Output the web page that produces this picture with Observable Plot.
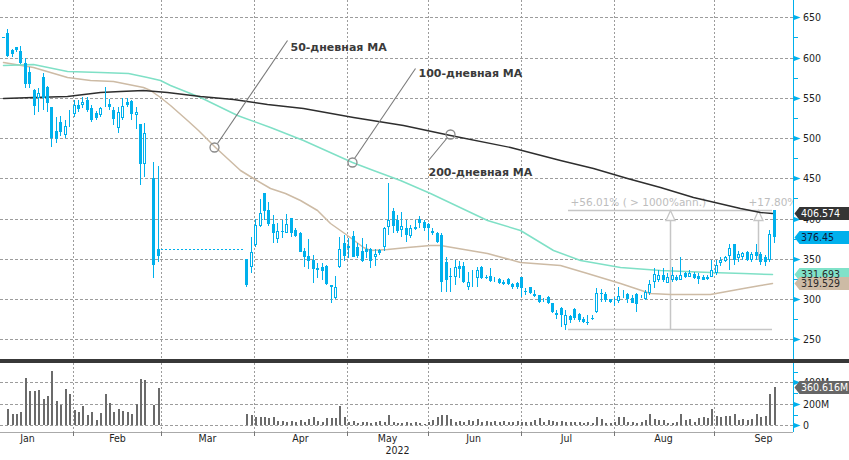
<!DOCTYPE html>
<html>
<head>
<meta charset="utf-8">
<script src="https://cdn.jsdelivr.net/npm/d3@7"></script>
<script src="https://cdn.jsdelivr.net/npm/@observablehq/plot@0.6"></script>
<style>
  html, body { margin: 0; padding: 0; background: #fff; }
  #wrap { width: 849px; height: 460px; overflow: hidden; background: #fff; }
  #wrap svg { display: block; }
  .sep { height: 4px; background: #383838; }
</style>
</head>
<body>
<div id="wrap"></div>
<script>
// ---------------- DATA ----------------
// trading-slot index (x); slots 36..54 = exchange closure (no data)
const slots = d3.range(0, 36).concat(d3.range(55, 175));

const open = [
  625, 630.5, 610, 612.7, 608.5, 592.9, 582.4, 559.7, 549.4, 575.5, 563.8, 538.2, 508.8, 519.6, 503.8, 528, 529.5, 541, 541, 547.3,
  536.9, 530.7, 528.6, 541.5, 541.9, 534.8, 512.1, 524.5, 545.2, 546, 528.6, 517.5, 467.4, 501.6, 450.7, 362.2,
  349.4, 339.4, 367, 391, 431.3, 410.6, 392.9, 374.2, 384.9, 382.4, 400.3, 385.8, 382.4, 359.8, 353.5, 348.5, 338, 340.2, 341, 317.5,
  300.9, 339.4, 369.3, 365.9, 378.7, 364.3, 359.8, 362.2, 361.8, 351.9, 360.9, 365, 389.9, 409.8, 398.1, 385.8, 387.9, 378.7, 389.9, 399.4,
  396, 393, 385, 381.6, 379.6, 346.4, 328.5, 327.8, 341, 341, 315.4, 324.1, 325.7, 340.2, 327, 328.6, 324.1, 324.5, 321.6, 324.5,
  318.7, 320.3, 327, 310.4, 315.4, 306.3, 305, 300.3, 302.1, 294.7, 283.1, 288.5, 267.8, 279.4, 287.2, 281, 275.2, 271.4, 276.6, 284.3,
  307.9, 306.3, 299.6, 298, 297.6, 305.4, 306.3, 300.9, 306.3, 305.4, 300.1, 307.1, 321.6, 323.7, 329.9, 320.4, 323.7, 327.8, 323.7, 332,
  327.8, 330.7, 329.1, 327.8, 324.5, 327.8, 332, 344.4, 347.7, 353.9, 368, 350.6, 351.8, 358.9, 348.5, 358.9, 356, 351.8, 348.5, 410.6
];
const high = [
  625.6, 635.1, 611, 613.5, 614.3, 599, 587.9, 561, 561.8, 580.4, 565, 539, 526.5, 527.4, 522.4, 534.8, 547.3, 547.3, 551.4, 551.4,
  541, 534, 539, 563.8, 548.5, 539, 539, 549.4, 549.4, 547, 539, 518, 518.3, 501.6, 469.9, 465.7,
  350, 376.7, 399.1, 423.9, 432, 420.9, 404.4, 394, 398, 405.3, 401, 388, 383, 363.1, 374.2, 354.7, 345.2, 345.2, 342, 318,
  328.6, 377.5, 379.6, 375.5, 384.5, 370, 375.5, 368.4, 363, 362.6, 362, 389.9, 443.8, 412.7, 404.4, 407.8, 398, 391.9, 398, 403.2,
  398, 395, 387.9, 383.7, 381.6, 352, 338.2, 348.5, 347.7, 346.4, 334, 336.1, 340.2, 341, 329.9, 338.2, 327, 325.7, 323.7, 325.7,
  319.5, 321, 327.8, 313.3, 315.4, 311.2, 305, 301.7, 303.8, 295.5, 286.4, 289.7, 286.4, 280.2, 288.5, 282.3, 278.1, 280.2, 280.2, 313.3,
  312.1, 309.2, 300, 303, 315.4, 311.2, 307.1, 305, 307.1, 305.5, 311.2, 323.7, 338.2, 336.1, 338.2, 332, 340.2, 329.9, 351.8, 334,
  336.1, 334, 332, 329.9, 329.9, 348.5, 348.5, 351.8, 353.5, 368, 368.4, 360.1, 358.9, 359.7, 358.9, 368, 358.9, 354.7, 385.8, 410.6
];
const low = [
  624.2, 600.7, 601, 607, 592, 562.5, 562.5, 528.6, 532, 534.8, 532.7, 489.3, 493.5, 502.5, 499.7, 514.2, 526.5, 532.7, 536.9, 532.7,
  520.3, 522.4, 526.5, 538.2, 534.8, 516.2, 506.6, 522.4, 538.2, 522.4, 510.9, 441.7, 452, 500.8, 325.8, 346.4,
  315.3, 332, 365, 389.9, 398, 391, 369.3, 369.3, 375.5, 381.7, 377.5, 376.7, 358, 340.2, 336.9, 319.6, 325.8, 323.7, 318, 294.7,
  300, 338.2, 347.7, 350.6, 351.9, 350.6, 346.4, 350.6, 338.2, 341, 354.5, 359.7, 379.6, 381.7, 381.7, 377.5, 371.2, 375.5, 385.8, 387.9,
  384, 373.4, 379.6, 370, 309.2, 309.2, 309.2, 317.5, 325.7, 319.5, 311.2, 315.4, 315.4, 324.5, 324.5, 321.6, 321.6, 318.7, 317.5, 317.5,
  312.1, 313, 302.2, 305, 306.3, 303, 295.5, 296.8, 293.9, 283.1, 275.2, 265.7, 261.6, 269.9, 274, 271.9, 269.9, 267.8, 274, 282.3,
  296.8, 296.8, 294.7, 291.4, 294.7, 300.9, 295.5, 294.7, 284.3, 300.9, 298.8, 305, 313.3, 321.6, 321.6, 319.5, 321.6, 322.8, 323.7, 325.7,
  327, 324.5, 318.3, 323.7, 323.7, 327.8, 329.9, 341.1, 346.4, 336.1, 342.3, 346.4, 348.5, 347.7, 346.4, 348.5, 342.3, 341.1, 346.4, 369.2
];
const close = [
  624.2, 601.9, 604, 609.3, 592.9, 566.8, 566.8, 539.8, 555.6, 549.4, 543.2, 499.7, 498.4, 507.9, 515, 527.2, 541, 535.7, 545.2, 534.8,
  522.4, 525.3, 537, 540.6, 538.2, 523.3, 532.7, 539.8, 541, 529.5, 532.7, 467.4, 505.9, 500.8, 342.3, 353.9,
  317.4, 358.8, 392, 407.3, 409.7, 393.2, 381.7, 384.5, 383, 392.9, 381.7, 378.4, 358.8, 351.9, 347.3, 337.3, 336, 335.2, 318.7, 314.6,
  314.6, 361.8, 353.9, 363.8, 352.6, 353.9, 347.3, 358.8, 347.3, 356, 356.8, 387.9, 398.2, 390.7, 384.5, 390.7, 379.6, 387.9, 387, 394,
  388, 388, 381.6, 371.3, 321.6, 323.7, 327.6, 340.2, 336.9, 321.6, 321.6, 323.3, 336.1, 325.7, 326.2, 322.4, 323.3, 319.5, 318.3, 318.7,
  314.6, 315.4, 313.3, 308.4, 307.1, 303.8, 295.9, 299.5, 294.7, 284.3, 280.2, 280.2, 280.2, 274, 276.1, 274, 271, 270.6, 275.8, 307.1,
  306.3, 298.8, 296.8, 297.2, 303.8, 304.6, 300.1, 295.5, 293.9, 304.6, 309.2, 318.7, 330.7, 329.9, 323.7, 327.8, 329.9, 323.7, 329.9, 327.8,
  332, 325.7, 324.9, 323.7, 327.8, 336.1, 342.3, 348.5, 351.8, 363, 348.5, 356, 356.8, 348.5, 356, 353.5, 346.4, 346.4, 380.8, 376.45
];
// volume, millions
const volume = [
  0, 154, 103, 103, 121, 439, 315, 315, 324, 248, 275, 503, 230, 185, 339, 291, 142, 121, 175, 94,
  121, 48, 112, 294, 212, 121, 148, 130, 121, 103, 194, 430, 421, 0, 185, 348,
  109, 100, 78, 73, 78, 64, 73, 39, 39, 27, 39, 30, 45, 35, 61, 73, 39, 30, 64, 67,
  67, 178, 78, 30, 39, 24, 30, 30, 24, 30, 39, 30, 94, 30, 24, 24, 30, 24, 30, 20,
  15, 33, 48, 79, 94, 94, 63, 33, 42, 33, 48, 40, 54, 33, 40, 33, 40, 33, 40, 33,
  33, 40, 33, 33, 33, 48, 70, 33, 48, 40, 33, 40, 33, 33, 33, 33, 25, 33, 25, 79,
  63, 25, 18, 33, 79, 79, 33, 33, 25, 33, 48, 103, 63, 48, 48, 25, 18, 33, 103, 48,
  63, 33, 70, 79, 70, 154, 87, 79, 82, 87, 109, 48, 54, 48, 63, 109, 79, 82, 290, 360.6
];

// moving averages (read at sample slots)
const ma50Slot = [0, 6.8, 14.5, 19.7, 24.9, 31.7, 33.3, 35.5, 37.8, 41.6, 44.1, 47.9, 53.6, 56.5, 60.3, 63.7, 67.1, 71, 73.9, 77.7, 81.3, 82.9, 86.7, 91.3, 96.4, 98.7, 109.3, 116.8, 125.8, 131.9, 139.3, 146.1, 150.6, 159.7, 167.1, 170.9, 173.7];
const ma50Val = [594, 588.3, 575.9, 572.1, 570.9, 563.4, 559.7, 551, 541.1, 522.4, 510, 488.9, 460.3, 450.4, 438, 431.8, 423.1, 410.6, 394.5, 379.6, 364.7, 361, 362.2, 364.7, 367.2, 367.2, 357.2, 346, 342.3, 332.4, 320, 307.5, 306.3, 306.3, 313.7, 317.5, 319.529];
const ma100Slot = [0, 6.8, 14.5, 22, 28.3, 32.6, 35.5, 37.8, 44.5, 52.9, 60.3, 67.8, 78.8, 83.6, 89.7, 96.5, 109.3, 116.8, 124.2, 130.3, 139.3, 148.4, 159.7, 167.1, 173.7];
const ma100Val = [590.8, 592, 583.3, 582.1, 580.8, 575.9, 572.1, 565.9, 551, 528.6, 513.7, 497.6, 470.3, 460.3, 447.9, 431.8, 398.2, 385.8, 360.9, 348.5, 339.8, 336.1, 333.6, 332.4, 331.693];
const ma200Slot = [0, 6.8, 14.5, 22, 26.5, 31.7, 37.1, 44.5, 52, 59.7, 67.8, 79.1, 90.4, 101, 114.5, 125.8, 133.3, 140.9, 148.4, 155.8, 166.4, 170.9, 173.7];
const ma200Val = [549.8, 551, 552.2, 557.2, 558.5, 559.7, 557.2, 552.2, 548.5, 542.3, 537.3, 526.2, 516.2, 503.8, 488.9, 472.7, 462.8, 450.4, 439.2, 426.8, 413.1, 408.1, 406.574];

// last close before the trading halt, carried over the closed days
const haltLevel = [362.2];
const haltFrom = [35.7];
const haltTo = [54.3];

// axes
const priceTicks = [250, 300, 350, 400, 450, 500, 550, 600, 650];
const priceMinor = [275, 325, 375, 425, 475, 525, 575, 625];
const volTicks = [0, 200, 400];
const volTickLabels = ["0", "200M", "400M"];
const volMinor = [100, 300, 500];
const monthBounds = [15.9, 35.7, 56.7, 77.7, 96, 117, 138, 160.6];
const monthNames = ["Jan", "Feb", "Mar", "Apr", "May", "Jun", "Jul", "Aug", "Sep"];
const monthCenters = [5.5, 25.8, 46.1, 67.1, 86.7, 106.2, 127.2, 149.1, 171.6];
const yearLabel = ["2022"];
const yearPos = [89];

// last-value tags
const tagValues = [406.574, 376.45, 331.693, 319.529];
const tagLabels = ["406.574", "376.45", "331.693", "319.529"];
const tagFills = ["#353535", "#00b0ec", "#80e2c9", "#cdbba5"];
const tagTextFills = ["#ffffff", "#0e1a3a", "#2a2a2a", "#2a2a2a"];
const volTagValues = [360.616];
const volTagLabels = ["360.616M"];

// MA annotations
const annoLabels = ["50-дневная MA", "100-дневная MA", "200-дневная MA"];
const annoTextX = [64.8, 93.8, 96.1];
const annoTextY = [613.7, 580.8, 457.2];
const leaderX1 = [64.1, 93.1, 96.1];
const leaderY1 = [621.8, 586.7, 472.7];
const leaderX2 = [48.33, 79.35, 100.3];
const leaderY2 = [493.9, 475.2, 500.7];
const circleX = [47.8, 78.8, 101];
const circleY = [489.3, 470.6, 505];

// percentage-change tool
const pctLevels = [410.6, 263.2];
const pctFrom = [127.7, 127.7];
const pctTo = [173.7, 173.7];
const pctArrowX = [150.6, 170.6];
const pctArrowBase = [263.2, 348.6];
const pctArrowTop = [410.6, 410.6];
const pctLabels = ["+56.01% ( > 1000%ann.)", "+17.80%"];
const pctLabelX = [128.1, 168.3];
const pctLabelY = [420.2, 420.2];

// ---------------- BUILD ----------------
const cyan = "#00b0ec";
const FONT = "'DejaVu Sans Condensed','DejaVu Sans',sans-serif";
const xDomain = [-0.61, 178.4];

const candles = slots.map((s, k) => ({i: s, o: open[k], h: high[k], l: low[k], c: close[k], v: volume[k]}));
const filled = candles.filter(d => d.c <= d.o);
const hollow = candles.filter(d => d.c > d.o);
const vols = candles.filter(d => d.v > 0);
const toLine = (xs, ys) => xs.map((x, k) => ({i: x, v: ys[k]}));
const ma50 = toLine(ma50Slot, ma50Val);
const ma100 = toLine(ma100Slot, ma100Val);
const ma200 = toLine(ma200Slot, ma200Val);
const tags = tagValues.map((v, k) => ({v, label: tagLabels[k], fill: tagFills[k], tfill: tagTextFills[k]}));
const volTags = volTagValues.map((v, k) => ({v, label: volTagLabels[k], fill: "#666666", tfill: "#ffffff"}));
const annos = annoLabels.map((t, k) => ({t, x: annoTextX[k], y: annoTextY[k], x1: leaderX1[k], y1: leaderY1[k], x2: leaderX2[k], y2: leaderY2[k], cx: circleX[k], cy: circleY[k]}));
const pctLines = pctLevels.map((v, k) => ({v, x1: pctFrom[k], x2: pctTo[k]}));
const pctArrows = pctArrowX.map((x, k) => ({x, b: pctArrowBase[k], t: pctArrowTop[k]}));
const pctTexts = pctLabels.map((t, k) => ({t, x: pctLabelX[k], y: pctLabelY[k]}));
const halt = haltLevel.map((v, k) => ({v, x1: haltFrom[k], x2: haltTo[k]}));

const tagShape = {draw(ctx) { ctx.moveTo(0, 0); ctx.lineTo(5, -6.5); ctx.lineTo(62, -6.5); ctx.lineTo(62, 6.5); ctx.lineTo(5, 6.5); ctx.closePath(); }};
const triRight = {draw(ctx) { ctx.moveTo(0, -2.5); ctx.lineTo(6.5, 0); ctx.lineTo(0, 2.5); ctx.closePath(); }};
const minorTick = {draw(ctx) { ctx.moveTo(0, 0); ctx.lineTo(4, 0); }};
const arrowHead = {draw(ctx) { ctx.moveTo(0, 0); ctx.lineTo(-4.5, 10); ctx.lineTo(4.5, 10); ctx.closePath(); }};

const gridStyle = {stroke: "#9c9c9c", strokeWidth: 1, strokeDasharray: "3,2"};
const vgridStyle = {stroke: "#9c9c9c", strokeWidth: 1, strokeDasharray: "2,2"};

const pricePlot = Plot.plot({
  width: 849, height: 359,
  marginLeft: 0, marginRight: 56, marginTop: 0, marginBottom: 0,
  x: {domain: xDomain, round: true, axis: null},
  y: {domain: [225.5, 671.5], round: true, axis: null},
  color: {type: "identity"},
  style: {fontFamily: FONT, fontSize: "10.5px", background: "#fff"},
  marks: [
    Plot.ruleY(priceTicks, gridStyle),
    Plot.ruleX(monthBounds, vgridStyle),
    // percentage tool
    Plot.ruleY(pctLines, {y: "v", x1: "x1", x2: "x2", stroke: "#c6c6c6", strokeWidth: 1.3}),
    Plot.ruleX(pctArrows, {x: "x", y1: "t", y2: "b", insetTop: 10, stroke: "#c6c6c6", strokeWidth: 1.5}),
    Plot.dot(pctArrows, {x: "x", y: "t", symbol: arrowHead, fill: "#ffffff", stroke: "#c6c6c6", strokeWidth: 1.3}),
    Plot.text(pctTexts, {x: "x", y: "y", text: "t", textAnchor: "start", fill: "#bdbdbd", fontSize: 10.5, fontFamily: "'DejaVu Sans',sans-serif", clip: true}),
    // moving averages
    Plot.line(ma50, {x: "i", y: "v", stroke: "#cdbba5", strokeWidth: 1.5}),
    Plot.line(ma100, {x: "i", y: "v", stroke: "#7fe0c6", strokeWidth: 1.5}),
    Plot.line(ma200, {x: "i", y: "v", stroke: "#2e2e2e", strokeWidth: 1.4}),
    // halt carry-over
    Plot.ruleY(halt, {y: "v", x1: "x1", x2: "x2", stroke: cyan, strokeWidth: 1, strokeDasharray: "2,2"}),
    // candles
    Plot.ruleX(candles, {x: "i", y1: "h", y2: "l", stroke: cyan, strokeWidth: 1}),
    Plot.ruleX(filled, {x: "i", y1: "o", y2: "c", stroke: cyan, strokeWidth: 3}),
    Plot.ruleX(hollow, {x: "i", y1: "c", y2: "o", stroke: cyan, strokeWidth: 3}),
    Plot.ruleX(hollow, {x: "i", y1: "c", y2: "o", stroke: "#ffffff", strokeWidth: 1, insetTop: 1, insetBottom: 1}),
    // MA annotations
    Plot.link(annos, {x1: "x1", y1: "y1", x2: "x2", y2: "y2", stroke: "#7a7a7a", strokeWidth: 1.1}),
    Plot.dot(annos, {x: "cx", y: "cy", r: 4.5, stroke: "#8a8a8a", fill: "none", strokeWidth: 1.3}),
    Plot.text(annos, {x: "x", y: "y", text: "t", textAnchor: "start", fill: "#3a3a3a", fontWeight: "bold", fontSize: 11, fontFamily: "'DejaVu Sans',sans-serif"}),
    // right axis
    Plot.ruleX([xDomain[1]], {stroke: cyan, strokeWidth: 1}),
    Plot.dot(priceTicks, {y: d => d, frameAnchor: "right", dx: 0.5, symbol: triRight, fill: cyan, stroke: "none"}),
    Plot.dot(priceMinor, {y: d => d, frameAnchor: "right", dx: 0.5, symbol: minorTick, fill: "none", stroke: cyan, strokeWidth: 1}),
    Plot.text(priceTicks, {y: d => d, frameAnchor: "right", dx: 9.5, text: d => String(d), textAnchor: "start", fill: "#1e1e1e"}),
    // last value tags
    Plot.dot(tags, {y: "v", frameAnchor: "right", dx: 1, symbol: tagShape, fill: "fill", stroke: "none"}),
    Plot.text(tags, {y: "v", frameAnchor: "right", dx: 7.5, text: "label", textAnchor: "start", fill: "tfill"})
  ]
});

const volPlot = Plot.plot({
  width: 849, height: 97,
  marginLeft: 0, marginRight: 56, marginTop: 0, marginBottom: 28,
  x: {domain: xDomain, round: true, axis: null},
  y: {domain: [-62.3, 579.5], round: true, axis: null},
  color: {type: "identity"},
  style: {fontFamily: FONT, fontSize: "10.5px", background: "#fff"},
  marks: [
    Plot.ruleY(volTicks, gridStyle),
    Plot.ruleX(monthBounds, vgridStyle),
    Plot.ruleX(vols, {x: "i", y1: 0, y2: "v", stroke: "#6b6b6b", strokeWidth: 2, dx: 0.5}),
    Plot.ruleY([-62.3], {stroke: "#aaaaaa", strokeWidth: 1}),
    Plot.ruleX(monthBounds, {y1: -62.3, y2: -62.3, insetBottom: -4, stroke: "#777777"}),
    Plot.text(monthNames, {x: (d, k) => monthCenters[k], frameAnchor: "bottom", dy: 9, text: d => d, fill: "#1e1e1e"}),
    Plot.text(yearLabel, {x: (d, k) => yearPos[k], frameAnchor: "bottom", dy: 21, text: d => d, fill: "#1e1e1e"}),
    Plot.ruleX([xDomain[1]], {stroke: cyan, strokeWidth: 1}),
    Plot.dot(volTicks, {y: d => d, frameAnchor: "right", dx: 0.5, symbol: triRight, fill: cyan, stroke: "none"}),
    Plot.dot(volMinor, {y: d => d, frameAnchor: "right", dx: 0.5, symbol: minorTick, fill: "none", stroke: cyan, strokeWidth: 1}),
    Plot.text(volTicks, {y: d => d, frameAnchor: "right", dx: 9.5, text: (d, k) => volTickLabels[k], textAnchor: "start", fill: "#1e1e1e"}),
    Plot.dot(volTags, {y: "v", frameAnchor: "right", dx: 1, symbol: tagShape, fill: "fill", stroke: "none"}),
    Plot.text(volTags, {y: "v", frameAnchor: "right", dx: 7.5, text: "label", textAnchor: "start", fill: "tfill"})
  ]
});

const wrap = document.getElementById("wrap");
wrap.appendChild(pricePlot);
const sep = document.createElement("div");
sep.className = "sep";
wrap.appendChild(sep);
wrap.appendChild(volPlot);
</script>
</body>
</html>
